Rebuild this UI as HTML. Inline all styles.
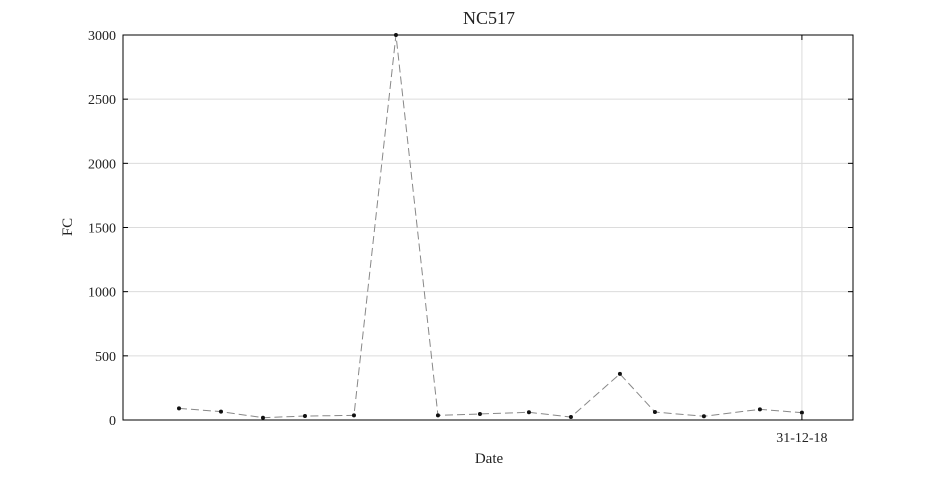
<!DOCTYPE html>
<html><head><meta charset="utf-8"><style>
body{margin:0;background:#fff;width:945px;height:472px;overflow:hidden}
text{font-family:"Liberation Serif",serif;fill:#222}
</style></head><body>
<svg id="chart" width="945" height="472" xmlns="http://www.w3.org/2000/svg"></svg>
<script>
const dayOffsets=[0,6,12,18,25,31,37,43,50,56,63,68,75,83,89];
const fcValues=[91,65,18,31,36,3000,36,47,60,23,359,62,29,83,57];
const yTicks=[0,500,1000,1500,2000,2500,3000];
const xTickDays=[89];
const xTickLabels=["31-12-18"];
const L=123,R=853,T=35,B=420;
const dMin=-8,dMax=96.3;
const ns="http://www.w3.org/2000/svg";
const svg=document.getElementById('chart');
function x(d){return L+(d-dMin)/(dMax-dMin)*(R-L);}
function y(v){return B-v/3000*(B-T);}
function el(t,a,p){const e=document.createElementNS(ns,t);for(const k in a)e.setAttribute(k,a[k]);(p||svg).appendChild(e);return e;}
yTicks.forEach((v,i)=>{
 const g=el('line',{x1:L,x2:R,y1:y(v),y2:y(v),stroke:'#dcdcdc','stroke-width':1});
 
 
 el('line',{x1:L,x2:L+5,y1:y(v),y2:y(v),stroke:'#000'});
 el('line',{x1:R-5,x2:R,y1:y(v),y2:y(v),stroke:'#000'});
 const t=el('text',{x:L-7,y:y(v)+5,'text-anchor':'end','font-size':14});
 t.textContent=v;
 
 
});
xTickDays.forEach((d,i)=>{
 const g=el('line',{x1:x(d),x2:x(d),y1:T,y2:B,stroke:'#dcdcdc'});
 
 
 el('line',{x1:x(d),x2:x(d),y1:B-5,y2:B,stroke:'#000'});
 el('line',{x1:x(d),x2:x(d),y1:T,y2:T+5,stroke:'#000'});
 const t=el('text',{x:x(d),y:442,'text-anchor':'middle','font-size':14});
 t.textContent=xTickLabels[i];
 
 
});
const frame=el('rect',{x:L,y:T,width:R-L,height:B-T,fill:'none',stroke:'#000','stroke-width':1});


const pts=dayOffsets.map((d,i)=>x(d)+','+y(fcValues[i])).join(' ');
const line=el('polyline',{points:pts,fill:'none',stroke:'#888','stroke-width':1,'stroke-dasharray':'8,4'});


dayOffsets.forEach((d,i)=>{
 const c=el('circle',{cx:x(d),cy:y(fcValues[i]),r:2,fill:'#111'});
 
 
});
const title=el('text',{x:489,y:24,'text-anchor':'middle','font-size':18});
title.textContent='NC517';


const xl=el('text',{x:489,y:463,'text-anchor':'middle','font-size':15});
xl.textContent='Date';


const yl=el('text',{x:0,y:0,'text-anchor':'middle','font-size':15,transform:'translate(72,227) rotate(-90)'});
yl.textContent='FC';


</script>
</body></html>
